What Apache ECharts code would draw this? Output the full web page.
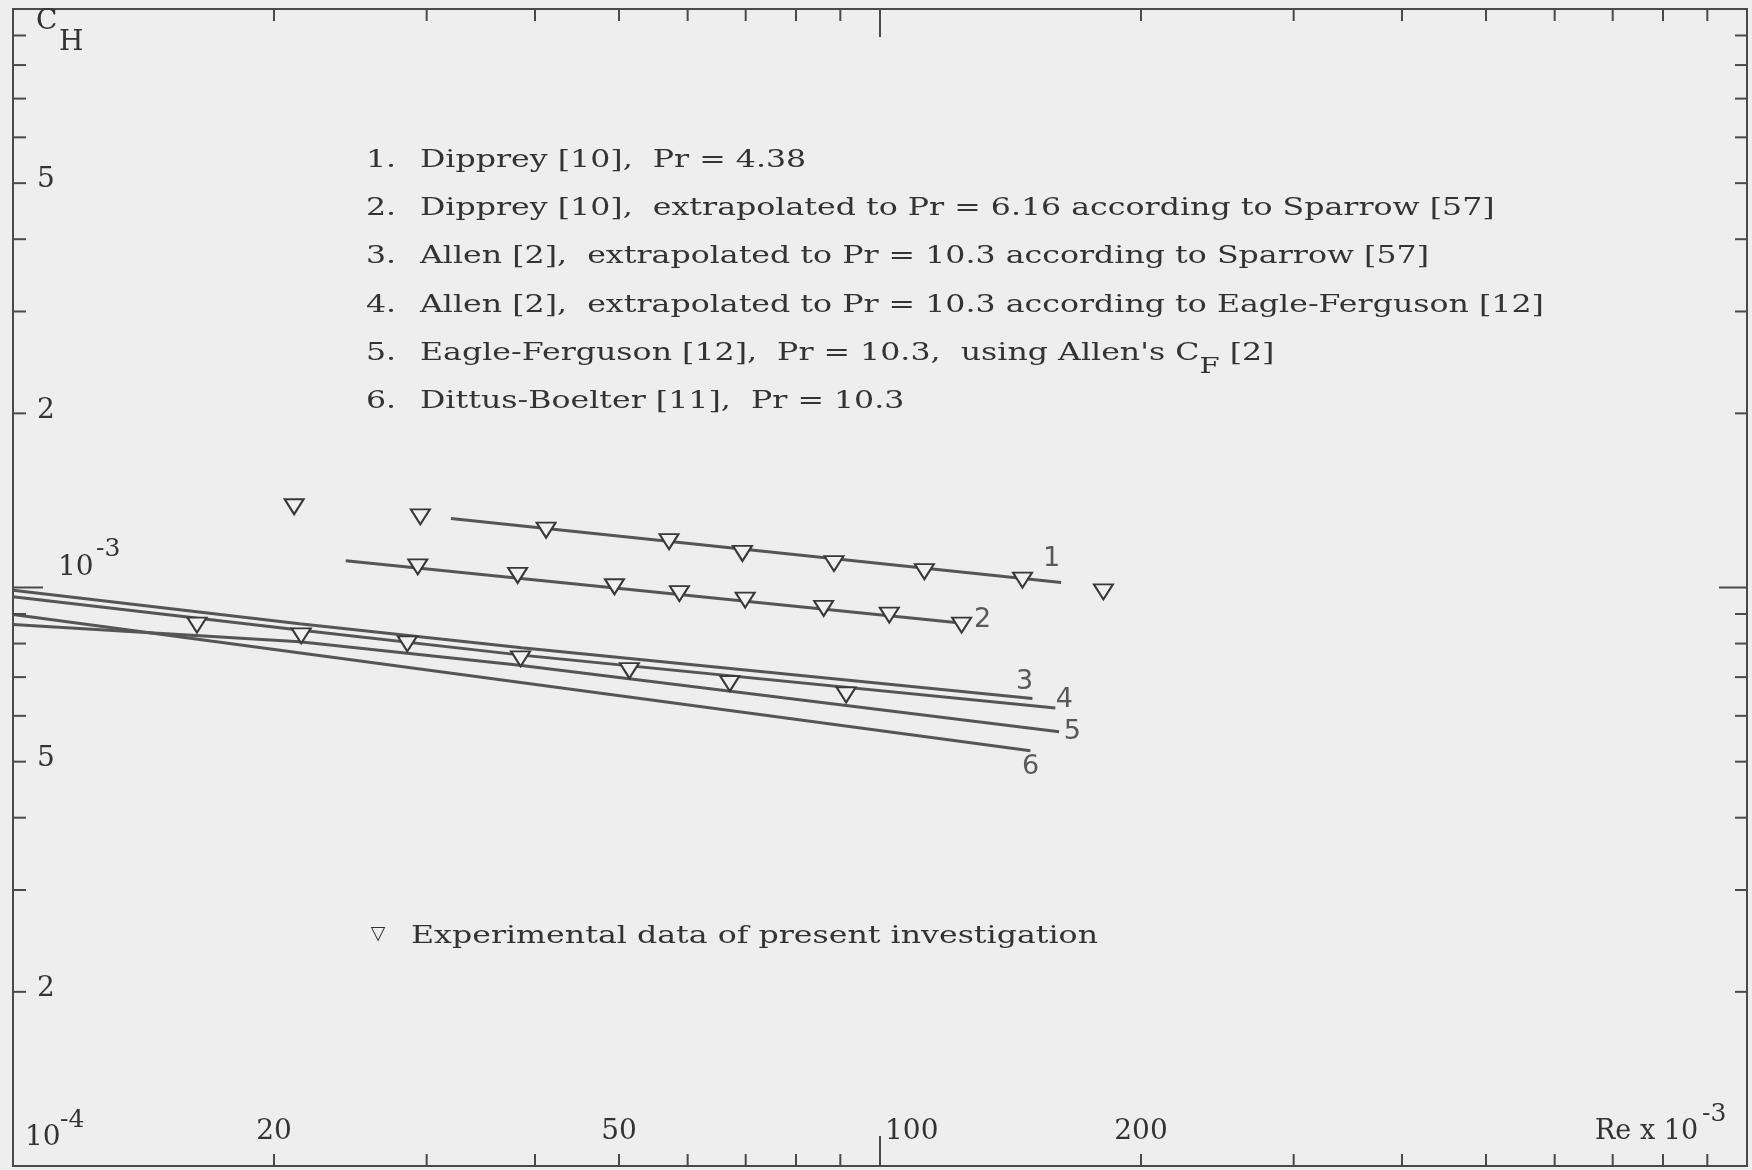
<!DOCTYPE html>
<html>
<head>
<meta charset="utf-8">
<script src="https://cdn.jsdelivr.net/npm/echarts@6/dist/echarts.min.js"></script>
<style>
  html, body { margin: 0; padding: 0; background: #eeeeee; }
  #chart { width: 1752px; height: 1170px; }
</style>
</head>
<body>
<div id="chart"></div>
<script>
// ---- axes (Re x 10^-3 horizontally, C_H vertically, both logarithmic) ----
const reRange = [10, 1000];
const chRange = [1e-4, 1e-2];
const reTicks = [20, 30, 40, 50, 60, 70, 80, 90, 100, 200, 300, 400, 500, 600, 700, 800, 900];
const reTickLabels = [20, 50, 100, 200];
const chTicks = [2e-4, 3e-4, 4e-4, 5e-4, 6e-4, 7e-4, 8e-4, 9e-4, 1e-3,
                 2e-3, 3e-3, 4e-3, 5e-3, 6e-3, 7e-3, 8e-3, 9e-3];
const chTickLabels = [5e-3, 2e-3, 1e-3, 5e-4, 2e-4];
const chTickTexts = ['5', '2', '10|-3', '5', '2'];

// ---- correlation curves, [Re x 10^-3, C_H] ----
const curve1 = [[32.0, 1.316e-3], [161.8, 1.020e-3]];
const curve2 = [[24.2, 1.112e-3], [122.2, 0.870e-3]];
const curve3 = [[10, 0.989e-3], [21.4, 0.866e-3], [38.6, 0.787e-3], [149.9, 0.643e-3]];
const curve4 = [[10, 0.964e-3], [21.4, 0.844e-3], [38.6, 0.764e-3], [159.3, 0.619e-3]];
const curve5 = [[10, 0.863e-3], [21.4, 0.806e-3], [38.4, 0.734e-3], [160.9, 0.563e-3]];
const curve6 = [[10, 0.898e-3], [149.1, 0.522e-3]];

// curve numbers written next to the line ends
const curveTagNames = ['1', '2', '3', '4', '5', '6'];
const curveTagRe = [157.7, 131.3, 146.8, 163.2, 166.7, 149.2];
const curveTagCH = [1.122e-3, 0.878e-3, 0.687e-3, 0.638e-3, 0.563e-3, 0.490e-3];

// ---- experimental data of the present investigation ----
const expRe = [21.1, 29.5,
  41.2, 57.1, 69.4, 88.5, 112.5, 146, 181,
  29.3, 38.2, 49.4, 58.7, 69.9, 86.1, 102.5, 124.2,
  16.3, 21.5, 28.5, 38.5, 51.4, 67.1, 91.4];
const expCH = [1.379e-3, 1.325e-3,
  1.256e-3, 1.200e-3, 1.145e-3, 1.100e-3, 1.065e-3, 1.030e-3, 0.983e-3,
  1.086e-3, 1.049e-3, 1.003e-3, 0.976e-3, 0.951e-3, 0.920e-3, 0.896e-3, 0.861e-3,
  0.861e-3, 0.825e-3, 0.799e-3, 0.753e-3, 0.718e-3, 0.682e-3, 0.652e-3];

// ---- key ----
const keyNumbers = ['1.', '2.', '3.', '4.', '5.', '6.'];
const keyTexts = [
  [['Dipprey [10],  Pr = 4.38']],
  [['Dipprey [10],  extrapolated to Pr = 6.16 according to Sparrow [57]']],
  [['Allen [2],  extrapolated to Pr = 10.3 according to Sparrow [57]']],
  [['Allen [2],  extrapolated to Pr = 10.3 according to Eagle-Ferguson [12]']],
  [["Eagle-Ferguson [12],  Pr = 10.3,  using Allen's C"], ['F', 'sub'], [' [2]']],
  [['Dittus-Boelter [11],  Pr = 10.3']]
];
const dataNote = 'Experimental data of present investigation';

// ---- styling ----
const INK = '#333333';
const FRAME = '#4a4a4a';
const CURVE = '#555555';
const SERIF = '"DejaVu Serif", serif';
const SANS = '"DejaVu Sans", sans-serif';
const STRETCH = 1.265;   // wide typewriter lettering of the key
const KEY_SIZE = 25;

const measureCtx = document.createElement('canvas').getContext('2d');
function textWidth(str, size, family) {
  measureCtx.font = size + 'px ' + family;
  return measureCtx.measureText(str).width;
}

function isDecade(v) {
  const e = Math.log10(v);
  return Math.abs(e - Math.round(e)) < 1e-6;
}

// tick marks on all four sides of the frame
const tickData = [];
reTicks.forEach(v => tickData.push([v, chRange[0], 0]));
chTicks.forEach(v => tickData.push([reRange[0], v, 1]));

function renderTick(params, api) {
  const kind = api.value(2);
  const style = { stroke: FRAME, lineWidth: 2 };
  if (kind === 0) {
    const v = api.value(0);
    const major = isDecade(v);
    const b = api.coord([v, chRange[0]]);
    const t = api.coord([v, chRange[1]]);
    const lb = major ? 30 : 12, lt = major ? 28 : 12;
    return { type: 'group', children: [
      { type: 'line', shape: { x1: b[0], y1: b[1], x2: b[0], y2: b[1] - lb }, style },
      { type: 'line', shape: { x1: t[0], y1: t[1], x2: t[0], y2: t[1] + lt }, style }
    ] };
  }
  const v = api.value(1);
  const major = isDecade(v);
  const l = api.coord([reRange[0], v]);
  const r = api.coord([reRange[1], v]);
  const ll = major ? 30 : 13, lr = major ? 28 : 12;
  return { type: 'group', children: [
    { type: 'line', shape: { x1: l[0], y1: l[1], x2: l[0] + ll, y2: l[1] }, style },
    { type: 'line', shape: { x1: r[0], y1: r[1], x2: r[0] - lr, y2: r[1] }, style }
  ] };
}

// tick numbers, placed from the axis scales
const labelData = [];
reTickLabels.forEach(v => labelData.push([v, chRange[0], 0]));
chTickLabels.forEach(v => labelData.push([reRange[0], v, 1]));

function tickText(str, x, y, align, size) {
  return { type: 'text', x, y, silent: true,
    style: { text: str, fontFamily: SERIF, fontSize: size || 28, fill: INK,
             align: align || 'left', verticalAlign: 'middle' } };
}

function renderLabel(params, api) {
  const kind = api.value(2);
  if (kind === 0) {
    const v = api.value(0);
    const p = api.coord([v, chRange[0]]);
    if (isDecade(v)) return tickText(String(v), p[0] + 5, p[1] - 34, 'left');
    return tickText(String(v), p[0], p[1] - 34, 'center');
  }
  const v = api.value(1);
  const p = api.coord([reRange[0], v]);
  const txt = chTickTexts[chTickLabels.indexOf(v)];
  if (txt.indexOf('|') >= 0) {
    const [base, exp] = txt.split('|');
    return { type: 'group', children: [
      tickText(base, p[0] + 45, p[1] - 20, 'left'),
      tickText(exp, p[0] + 83, p[1] - 38, 'left', 25)
    ] };
  }
  return tickText(txt, p[0] + 24, p[1] - 3, 'left');
}

function curveSeries(name, data) {
  return {
    name, type: 'line', data, showSymbol: false, silent: true, z: 3,
    lineStyle: { color: CURVE, width: 3 }
  };
}

// key block and axis titles
const graphics = [];
function stretched(str, x, y, size) {
  return { type: 'text', x, y, scaleX: STRETCH, silent: true,
    style: { text: str, fontFamily: SERIF, fontSize: size, fill: INK,
             align: 'left', verticalAlign: 'middle' } };
}
const keyTop = 160.5, keyStep = 48.2, keyNumX = 366, keyTextX = 420;
keyTexts.forEach((parts, i) => {
  const y = keyTop + i * keyStep;
  graphics.push(stretched(keyNumbers[i], keyNumX, y, KEY_SIZE));
  let x = keyTextX;
  parts.forEach(([str, kind]) => {
    const size = kind === 'sub' ? KEY_SIZE - 2 : KEY_SIZE;
    const dy = kind === 'sub' ? 14 : 0;
    graphics.push(stretched(str, x, y + dy, size));
    x += textWidth(str, size, SERIF) * STRETCH;
  });
});
graphics.push({ type: 'text', x: 378, y: 934, silent: true,
  style: { text: '\u25BD', fontFamily: SANS, fontSize: 19, fill: INK,
           align: 'center', verticalAlign: 'middle' } });
graphics.push(stretched(dataNote, 411, 936, KEY_SIZE));

// C_H title
graphics.push(tickText('C', 36, 22, 'left'));
graphics.push(tickText('H', 59, 43, 'left'));
// 10^-4 in the lower left corner
graphics.push(tickText('10', 25, 1138, 'left'));
graphics.push(tickText('-4', 60, 1120, 'left', 25));
// Re x 10^-3 title
graphics.push(tickText('Re x 10', 1595, 1132, 'left', 27));
graphics.push(tickText('-3', 1702, 1114, 'left', 25));

const chart = echarts.init(document.getElementById('chart'), null, { renderer: 'canvas' });
chart.setOption({
  animation: false,
  backgroundColor: '#eeeeee',
  grid: { left: 13, top: 9, right: 5, bottom: 4, show: true,
          borderColor: FRAME, borderWidth: 2, backgroundColor: 'transparent' },
  xAxis: { type: 'log', logBase: 10, min: reRange[0], max: reRange[1],
           axisLine: { show: false }, axisTick: { show: false },
           axisLabel: { show: false }, splitLine: { show: false } },
  yAxis: { type: 'log', logBase: 10, min: chRange[0], max: chRange[1],
           axisLine: { show: false }, axisTick: { show: false },
           axisLabel: { show: false }, splitLine: { show: false } },
  graphic: graphics,
  series: [
    { name: 'ticks', type: 'custom', renderItem: renderTick, data: tickData,
      silent: true, clip: false, z: 5 },
    { name: 'tick numbers', type: 'custom', renderItem: renderLabel, data: labelData,
      silent: true, clip: false, z: 5 },
    curveSeries('1', curve1),
    curveSeries('2', curve2),
    curveSeries('3', curve3),
    curveSeries('4', curve4),
    curveSeries('5', curve5),
    curveSeries('6', curve6),
    { name: 'curve numbers', type: 'scatter', silent: true, z: 4,
      symbolSize: 2, itemStyle: { color: 'rgba(0,0,0,0)' },
      data: curveTagNames.map((n, i) => ({ name: n, value: [curveTagRe[i], curveTagCH[i]] })),
      label: { show: true, position: 'inside', formatter: p => p.name,
               fontFamily: SANS, fontSize: 27, color: INK } },
    { name: 'experimental data', type: 'scatter', silent: true, z: 6,
      data: expRe.map((r, i) => [r, expCH[i]]),
      symbol: 'triangle', symbolRotate: 180, symbolSize: [19, 15],
      itemStyle: { color: '#f0f0f0', borderColor: '#383838', borderWidth: 2, opacity: 1 } }
  ]
});
</script>
</body>
</html>
